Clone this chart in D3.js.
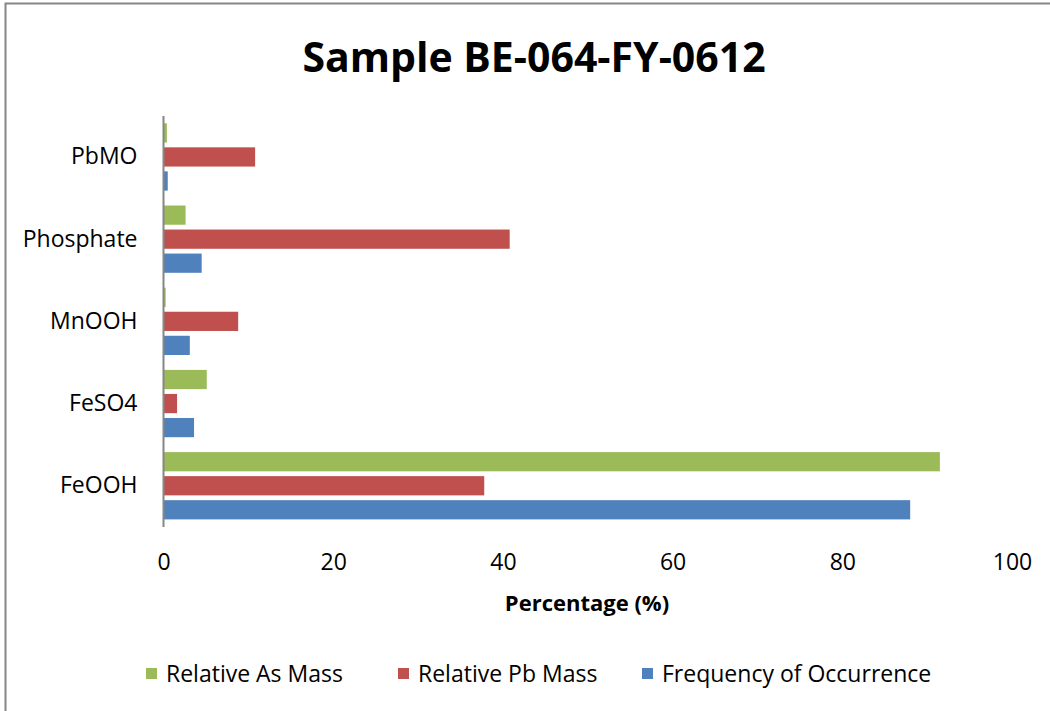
<!DOCTYPE html>
<html>
<head>
<meta charset="utf-8">
<script src="https://cdn.jsdelivr.net/npm/d3@7"></script>
<style>
  html, body { margin: 0; padding: 0; background: #fff; }
  svg { display: block; font-family: "Open Sans", "Noto Sans", sans-serif; }
</style>
</head>
<body>
<svg id="chart" width="1050" height="711"></svg>
<script>
// Categories, top to bottom as drawn
const categories = ["PbMO", "Phosphate", "MnOOH", "FeSO4", "FeOOH"];

// Series (drawn top to bottom within each category)
const seriesNames = ["Relative As Mass", "Relative Pb Mass", "Frequency of Occurrence"];
const seriesColors = ["#9BBB59", "#C0504D", "#4F81BD"];

// Values in percent, per category in the order above
const asMass    = [0.4, 2.6, 0.25, 5.1, 91.5];
const pbMass    = [10.8, 40.8, 8.8, 1.6, 37.8];
const frequency = [0.5, 4.5, 3.1, 3.6, 88.0];

const xTicks = [0, 20, 40, 60, 80, 100];

const seriesValues = [asMass, pbMass, frequency];

const labelSize = 23;

const svg = d3.select("#chart");

// Chart frame
svg.append("rect")
  .attr("x", 5.5).attr("y", 3.5)
  .attr("width", 1060).attr("height", 720)
  .attr("fill", "none")
  .attr("stroke", "#868686")
  .attr("stroke-width", 2);

// Title
svg.append("text")
  .attr("x", 534).attr("y", 72)
  .attr("text-anchor", "middle")
  .attr("font-size", 41)
  .attr("font-weight", "bold")
  .attr("fill", "#000")
  .text("Sample BE-064-FY-0612");

const plot = { left: 163.5, right: 1012, top: 116, bottom: 527 };

const x = d3.scaleLinear().domain([0, 100]).range([plot.left, plot.right]);
const y0 = d3.scaleBand().domain(categories).range([plot.top, plot.bottom]).padding(0);
const y1 = d3.scaleBand().domain(seriesNames)
  .range([7.3, y0.bandwidth() - 7.6])
  .paddingInner(0.2);

// Bars
const groups = svg.append("g").selectAll("g")
  .data(categories)
  .join("g")
  .attr("transform", d => `translate(0,${y0(d)})`);

groups.selectAll("rect")
  .data((c, i) => seriesNames.map((s, k) => ({ s, k, v: seriesValues[k][i] })))
  .join("rect")
  .attr("x", x(0))
  .attr("y", d => y1(d.s))
  .attr("width", d => x(d.v) - x(0))
  .attr("height", y1.bandwidth())
  .attr("fill", d => seriesColors[d.k]);

// Vertical category axis line
svg.append("line")
  .attr("x1", plot.left).attr("x2", plot.left)
  .attr("y1", plot.top).attr("y2", plot.bottom)
  .attr("stroke", "#868686").attr("stroke-width", 2);

// Category labels
const yAxis = d3.axisLeft(y0).tickSize(0).tickPadding(26);
const yg = svg.append("g").attr("transform", `translate(${plot.left},0)`).call(yAxis);
yg.select(".domain").remove();
yg.selectAll("text")
  .attr("font-family", "'Open Sans', sans-serif")
  .attr("font-size", labelSize)
  .attr("fill", "#000");

// Value axis labels (no axis line)
const xAxis = d3.axisBottom(x).tickValues(xTicks).tickSize(0).tickPadding(0);
const xg = svg.append("g").attr("transform", `translate(0,549)`).call(xAxis);
xg.select(".domain").remove();
xg.selectAll("text")
  .attr("font-family", "'Open Sans', sans-serif")
  .attr("font-size", labelSize)
  .attr("dy", "0.9em")
  .attr("fill", "#000");

// Axis title
svg.append("text")
  .attr("x", 587).attr("y", 611)
  .attr("text-anchor", "middle")
  .attr("font-size", 22)
  .attr("font-weight", "bold")
  .attr("fill", "#000")
  .text("Percentage (%)");

// Legend
const legendX = [146, 398, 642];
const legend = svg.append("g").selectAll("g")
  .data(seriesNames)
  .join("g")
  .attr("transform", (d, i) => `translate(${legendX[i]},668)`);
legend.append("rect")
  .attr("width", 11).attr("height", 11)
  .attr("fill", (d, i) => seriesColors[i]);
legend.append("text")
  .attr("x", 20).attr("y", 14)
  .attr("font-size", labelSize)
  .attr("fill", "#000")
  .text(d => d);
</script>
</body>
</html>
